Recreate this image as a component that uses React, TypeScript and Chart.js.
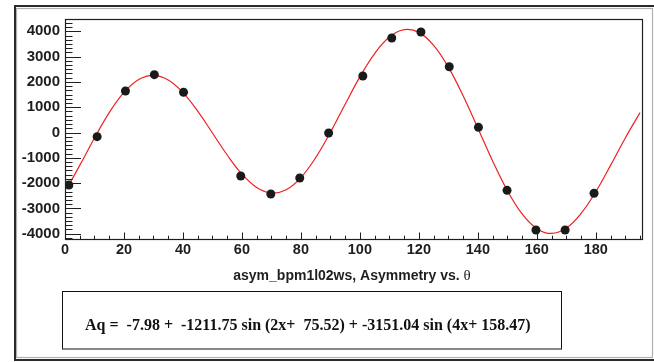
import React, { useEffect, useRef } from "react";
import { Chart, registerables } from "chart.js";

Chart.register(...registerables);

// Measured points
const thetaValues = [1.3, 10.9, 20.5, 30.3, 40.2, 59.6, 69.8, 79.6, 89.4, 101, 110.8, 120.7, 130.3, 140.2, 149.9, 159.7, 169.6, 179.4];
const asymValues = [-2075, -165, 1640, 2285, 1590, -1719, -2431, -1798, -20, 2233, 3735, 3972, 2600, 205, -2285, -3854, -3854, -2403];

// Fit curve (red)
const fitTheta = [1, 5, 10, 15, 20, 25, 30, 35, 40, 45, 50, 55, 60, 65, 70, 75, 80, 85, 90, 95, 100, 105, 110, 115, 120, 125, 130, 135, 140, 145, 150, 155, 160, 165, 170, 175, 180, 185, 190, 195];
const fitAsym = [-2140, -1300, -216, 785, 1585, 2093, 2260, 2076, 1579, 845, -18, -890, -1644, -2172, -2391, -2260, -1780, -995, 9, 1116, 2197, 3120, 3772, 4066, 3958, 3448, 2584, 1451, 171, -1123, -2293, -3216, -3799, -3990, -3777, -3200, -2337, -1300, -216, 785];

// Axis ticks
const xTickValues = [0, 20, 40, 60, 80, 100, 120, 140, 160, 180];
const yTickValues = [-4000, -3000, -2000, -1000, 0, 1000, 2000, 3000, 4000];
const xRange = [0, 196];
const yRange = [-4209, 4486];

const titleMain = "asym_bpm1l02ws, Asymmetry vs. ";
const titleSymbol = "θ";
const fitLabel = "Aq =  -7.98 +  -1211.75 sin (2x+  75.52) + -3151.04 sin (4x+ 158.47)";

const INK = "#1e1e1e";
const AXIS_FONT = { family: '"Liberation Sans", Arial, sans-serif', size: 14.5, weight: "bold" as const };

const rootDecor = {
  id: "rootDecor",
  beforeDraw(chart: any) {
    const { ctx, width, height } = chart;
    ctx.save();
    ctx.fillStyle = "#ffffff";
    ctx.fillRect(0, 0, width, height);
    // inner light frame
    ctx.strokeStyle = "#b0b0b0";
    ctx.lineWidth = 1.2;
    ctx.strokeRect(16.5, 8.5, 636, 349);
    // outer dark frame (top, left, bottom)
    ctx.fillStyle = "#2a2a2a";
    ctx.fillRect(14, 5, 640, 2);
    ctx.fillRect(14, 5, 2, 356);
    ctx.fillRect(14, 359, 640, 2);
    ctx.restore();
  },
  afterDraw(chart: any) {
    const { ctx, chartArea: ca, scales } = chart;
    const xs = scales.x;
    const ys = scales.y;
    ctx.save();
    ctx.strokeStyle = INK;
    ctx.lineWidth = 1.2;
    ctx.strokeRect(ca.left + 0.5, ca.top + 0.5, ca.right - ca.left - 1, ca.bottom - ca.top);

    ctx.lineWidth = 1;
    ctx.beginPath();
    // y ticks (inside, from left axis)
    for (let i = 0; i < yTickValues.length; i++) {
      const v = yTickValues[i];
      const py = Math.round(ys.getPixelForValue(v)) + 0.5;
      ctx.moveTo(ca.left, py);
      ctx.lineTo(ca.left + 16, py);
    }
    const yStep = (yTickValues[1] - yTickValues[0]) / 6;
    for (let v = yTickValues[0] - yStep * 6; v <= yRange[1]; v += yStep) {
      if (v < yRange[0] || v > yRange[1]) continue;
      const py = Math.round(ys.getPixelForValue(v)) + 0.5;
      ctx.moveTo(ca.left, py);
      ctx.lineTo(ca.left + 7.5, py);
    }
    // x ticks (inside, up from bottom axis)
    for (let i = 0; i < xTickValues.length; i++) {
      const px = Math.round(xs.getPixelForValue(xTickValues[i])) + 0.5;
      ctx.moveTo(px, ca.bottom);
      ctx.lineTo(px, ca.bottom - 6.5);
    }
    const xStep = (xTickValues[1] - xTickValues[0]) / 4;
    for (let v = xRange[0]; v <= xRange[1]; v += xStep) {
      const px = Math.round(xs.getPixelForValue(v)) + 0.5;
      ctx.moveTo(px, ca.bottom);
      ctx.lineTo(px, ca.bottom - 3.3);
    }
    ctx.stroke();

    // axis title (mixed fonts)
    ctx.fillStyle = INK;
    ctx.textBaseline = "alphabetic";
    ctx.textAlign = "left";
    const f1 = 'bold 14px "Liberation Sans", Arial, sans-serif';
    const f2 = '15px "Liberation Serif", "Times New Roman", serif';
    ctx.font = f1;
    const w1 = ctx.measureText(titleMain).width;
    ctx.font = f2;
    const w2 = ctx.measureText(titleSymbol).width;
    const cx = (ca.left + ca.right) / 2 - 2;
    const sx = cx - (w1 + w2) / 2;
    ctx.font = f1;
    ctx.fillText(titleMain, sx, 279.5);
    ctx.font = f2;
    ctx.fillText(titleSymbol, sx + w1, 279.5);

    // fit parameter box
    ctx.fillStyle = "#ffffff";
    ctx.fillRect(62.5, 291.5, 499, 57.5);
    ctx.strokeStyle = "#111";
    ctx.lineWidth = 1;
    ctx.strokeRect(62.5, 291.5, 499, 57.5);
    ctx.fillStyle = "#111";
    ctx.font = 'bold 16px "Liberation Serif", "Times New Roman", serif';
    ctx.fillText(fitLabel, 85, 329.5);
    ctx.restore();
  },
};

export default function App() {
  const canvasRef = useRef<HTMLCanvasElement | null>(null);

  useEffect(() => {
    if (!canvasRef.current) return;
    const pointData = thetaValues.map((x, i) => ({ x, y: asymValues[i] }));
    const fitData = fitTheta.map((x, i) => ({ x, y: fitAsym[i] }));

    const chart = new Chart(canvasRef.current, {
      type: "scatter",
      data: {
        datasets: [
          {
            label: "data",
            data: pointData,
            pointRadius: 4.5,
            pointBackgroundColor: "#1a1a1a",
            pointBorderColor: "#1a1a1a",
            pointBorderWidth: 0,
            showLine: false,
          },
          {
            label: "fit",
            data: fitData,
            showLine: true,
            pointRadius: 0,
            borderColor: "#ee2222",
            borderWidth: 1.2,
            tension: 0.4,
            fill: false,
          },
        ],
      },
      options: {
        responsive: false,
        animation: false,
        devicePixelRatio: 1,
        layout: { padding: { left: 0, top: 19, right: 11, bottom: 0 } },
        plugins: {
          legend: { display: false },
          tooltip: { enabled: false },
          title: { display: false },
        },
        scales: {
          x: {
            type: "linear",
            min: xRange[0],
            max: xRange[1],
            grid: { display: false, drawTicks: false },
            border: { display: false },
            afterBuildTicks: (s: any) => {
              s.ticks = xTickValues.map((v) => ({ value: v }));
            },
            afterFit: (s: any) => {
              s.height = 123;
            },
            ticks: {
              padding: 2,
              color: INK,
              font: AXIS_FONT,
              maxRotation: 0,
              autoSkip: false,
              callback: (v: any) => String(v),
            },
          },
          y: {
            type: "linear",
            min: yRange[0],
            max: yRange[1],
            grid: { display: false, drawTicks: false },
            border: { display: false },
            afterBuildTicks: (s: any) => {
              s.ticks = yTickValues.map((v) => ({ value: v }));
            },
            afterFit: (s: any) => {
              s.width = 65;
            },
            ticks: {
              padding: 5,
              color: INK,
              font: { ...AXIS_FONT, size: 15 },
              autoSkip: false,
              callback: (v: any) => String(v),
            },
          },
        },
      },
      plugins: [rootDecor],
    });
    return () => chart.destroy();
  }, []);

  return (
    <div style={{ position: "absolute", left: 0, top: 0, width: 654, height: 362, background: "#fff" }}>
      <canvas ref={canvasRef} width={654} height={362} style={{ display: "block", width: 654, height: 362 }} />
    </div>
  );
}
